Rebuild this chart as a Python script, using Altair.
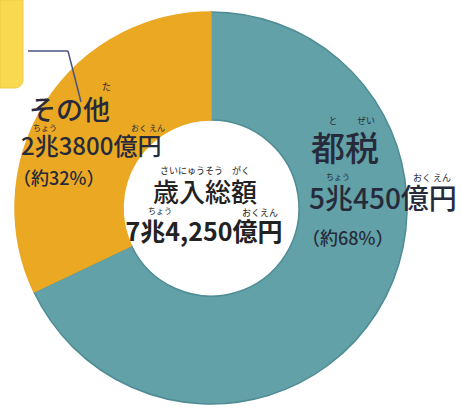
import altair as alt
import pandas as pd

# ---- data ----
categories = ["都税", "その他"]
values = [50450, 23800]          # 億円
order = [1, 2]
amount_labels = ["5兆450億円", "2兆3800億円"]
percent_labels = ["（約68%）", "（約32%）"]
total_title = "歳入総額"
total_label = "7兆4,250億円"
colors = ["#62a1a7", "#eaa823"]
strokes = ["#4f8c94", "#eaa823"]

df = pd.DataFrame({"cat": categories, "val": values, "ord": order})

FONT = "Noto Sans CJK JP"
DARK = "#262a3a"

donut = alt.Chart(df).mark_arc(
    outerRadius=196, innerRadius=88, strokeWidth=1.5
).encode(
    theta=alt.Theta("val:Q", stack=True),
    order=alt.Order("ord:Q"),
    color=alt.Color("cat:N", scale=alt.Scale(domain=categories, range=colors), legend=None),
    stroke=alt.Stroke("cat:N", scale=alt.Scale(domain=categories, range=strokes), legend=None),
    x=alt.value(211),
    y=alt.value(208),
)

def txt(label, x, y, size, weight="normal", align="left", color=DARK):
    return alt.Chart(pd.DataFrame({"t": [label]})).mark_text(
        font=FONT, fontSize=size, fontWeight=weight, align=align,
        baseline="middle", color=color
    ).encode(text="t:N", x=alt.value(x), y=alt.value(y))

box = alt.Chart(pd.DataFrame({"a": [0]})).mark_rect(
    fill="#f8d94f", stroke="#f1cb45", strokeWidth=1, cornerRadiusBottomRight=8
).encode(x=alt.value(0), x2=alt.value(23), y=alt.value(0), y2=alt.value(88))

line_color = "#4a5282"
rule1 = alt.Chart(pd.DataFrame({"a": [0]})).mark_rule(color=line_color, strokeWidth=1.5).encode(
    x=alt.value(28), x2=alt.value(68), y=alt.value(51), y2=alt.value(51))
rule2 = alt.Chart(pd.DataFrame({"a": [0]})).mark_rule(color=line_color, strokeWidth=1.5).encode(
    x=alt.value(68), x2=alt.value(81), y=alt.value(51), y2=alt.value(102))

W = 500
labels = [
    # その他
    txt("た", 102, 87, 9),
    txt(categories[1], 29, 112, 27, weight=W),
    txt("ちょう", 45, 129, 8, align="center"),
    txt("おく えん", 148, 129, 8, align="center"),
    txt(amount_labels[1], 21, 148, 24, weight=W),
    txt(percent_labels[1], 13, 180, 18, weight=W),
    # 都税
    txt("と", 333, 121, 9, align="center"),
    txt("ぜい", 366, 121, 9, align="center"),
    txt(categories[0], 311, 151, 34, weight=W),
    txt("ちょう", 338, 178, 8, align="center"),
    txt("おく えん", 432, 178, 9, align="center"),
    txt(amount_labels[0], 309, 201, 28, weight=W),
    txt(percent_labels[0], 302, 240, 18, weight=W),
    # center
    txt("さいにゅうそう　がく", 205, 171, 9, align="center", color="#222222"),
    txt(total_title, 205, 194, 26, weight=W, align="center", color="#222222"),
    txt("ちょう", 160, 212, 8, align="center", color="#222222"),
    txt("おくえん", 260, 213, 9, align="center", color="#222222"),
    txt(total_label, 204, 233, 25, weight="bold", align="center", color="#222222"),
]

chart = alt.layer(box, donut, rule1, rule2, *labels).properties(
    width=462, height=412,
    autosize=alt.AutoSizeParams(type="none"),
    padding=0,
    background="white",
).configure_view(stroke=None)

chart.save("out.html", embed_options={"renderer": "svg", "actions": False})
